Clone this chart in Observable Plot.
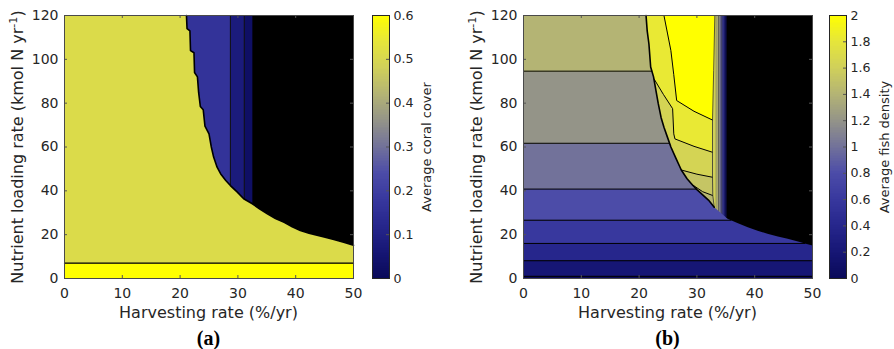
<!DOCTYPE html>
<html><head><meta charset="utf-8">
<script src="https://cdn.jsdelivr.net/npm/d3@7"></script>
<script src="https://cdn.jsdelivr.net/npm/@observablehq/plot@0.6"></script>
<style>
body{margin:0;background:#fff;}
#root{position:relative;width:894px;height:349px;overflow:hidden;font-family:"DejaVu Sans",sans-serif;color:#262626;}
.box{position:absolute;top:0;}
.lab{position:absolute;white-space:nowrap;font-size:16px;line-height:1;transform:translate(-50%,-50%);}
.rot{transform:translate(-50%,-50%) rotate(-90deg);}
.cbl{font-size:13px;}
.cap{font-family:"Liberation Serif",serif;font-weight:bold;font-size:20px;color:#000;}
sup{font-size:70%;vertical-align:0.5em;line-height:0;}
</style></head><body><div id="root"></div>
<script>
// ---------- ticks ----------
const xTicks = [0, 10, 20, 30, 40, 50];
const yTicks = [0, 20, 40, 60, 80, 100, 120];
const coralTicks = [0, 0.1, 0.2, 0.3, 0.4, 0.5, 0.6];
const fishTicks = [0, 0.2, 0.4, 0.6, 0.8, 1, 1.2, 1.4, 1.6, 1.8, 2];

// ---------- colour map (fraction of range -> colour) ----------
const cmapStops = [0, 0.1, 0.2, 0.3, 0.4, 0.5, 0.6, 0.7, 0.8, 0.9, 1];
const cmapColors = ["#0a0a5a", "#161675", "#26268c", "#38389e", "#4c4ca8", "#72729a", "#949488", "#b4b474", "#d0d05a", "#e6e63a", "#ffff00"];

// ---------- (a) average coral cover ----------
// edge of the high-coral region [harvest %, nutrient load], top to bottom
const coralEdge = [[21.1,120],[21.2,114],[21.7,113],[21.8,104],[22.4,103],[22.5,94],[23.0,92],[23.2,85],[23.5,78.5],[24.0,77],[24.3,69.5],[25.0,66],[25.4,60],[25.8,55.4],[26.4,50.8],[27.0,47.8],[27.9,44.7],[28.7,42.4],[29.9,39.4],[31.0,36.4],[32.5,34.1],[33.8,31.7],[35.1,29.5],[36.5,27.4],[38.0,25.6],[39.4,23.6],[40.8,21.9],[42.3,20.7],[43.7,19.8],[45.1,18.8],[46.6,17.8],[48.3,16.5],[50,15.2]];
const coralStripEdges = [32.5, 31.1, 28.7];      // vertical contour positions (harvest %)
const coralStripValues = [0.024, 0.078, 0.162];  // cover in the strips
const coralStripLines = [28.7, 31.1];
const coralMainValue = 0.51;
const coralLowTop = 7;
const coralLowValue = 0.6;

// ---------- (b) average fish density ----------
const fishEdge = [[21.2,120],[21.4,113],[21.7,107],[22.0,96.5],[22.5,92],[22.9,86],[23.3,80],[23.8,73.5],[24.3,69],[24.9,64.5],[25.5,60],[26.3,55.3],[27.3,49.5],[28.3,45.5],[29.2,42.8],[30.1,40.3],[31.0,38.2],[32.0,35.8],[33.0,32.5]];
const fishCollapseEdge = [[34.2,29.8],[35.3,27.3],[37.0,25.3],[38.8,23.4],[40.5,21.8],[42.2,20.4],[44.0,19.2],[45.7,18.1],[47.8,16.6],[50,15.1]];
const fishBandTops = [1, 8.1, 16, 26.6, 40.8, 61.7, 94.6, 120];
const fishBandValues = [0, 0.2, 0.4, 0.6, 0.8, 1.0, 1.2, 1.4];
const fishRightEdge = [[33.0,32.5],[32.75,37.9],[32.7,46.2],[32.7,57.6],[32.7,72.3],[32.9,95],[33.1,120]];
const fishTipValue = 1.42;
const fishLine4 = [[29.2,42.8],[31.0,39.6],[32.7,37.9]];
const fishLine3 = [[27.3,49.5],[30.0,47.6],[32.7,46.2]];
const fishLine2 = [[22.6,91],[24.2,84],[25.8,77.5],[26.0,66],[26.2,63.7],[29.5,60.3],[32.7,57.6]];
const fishLine1 = [[24.3,120],[24.9,112],[25.5,104],[26.0,93],[26.5,81.2],[29.5,76.3],[32.7,72.3]];
const fishInnerValues = [1.52, 1.64, 1.82, 2.0];
const fishStripEdges = [32.7, 33.3, 33.7, 34.0, 34.3, 34.5, 34.7, 34.9, 35.1];
const fishStripValues = [1.6, 1.4, 1.2, 1.0, 0.8, 0.6, 0.4, 0.2];
const fishStripBottom = 28;

// ---------- helpers ----------
const X_MAX = 50, Y_MAX = 120;
function xAt(edge, y) {
  if (y >= edge[0][1]) return edge[0][0];
  for (let i = 1; i < edge.length; i++) {
    const [x0, y0] = edge[i - 1], [x1, y1] = edge[i];
    if (y >= y1) return x0 + (x1 - x0) * (y - y0) / (y1 - y0);
  }
  return X_MAX;
}
function bandPoly(edge, lo, hi) {
  const right = [[xAt(edge, hi), hi], ...edge.filter(([, y]) => y < hi && y > lo), [xAt(edge, lo), lo]];
  return [[0, hi], ...right, [0, lo]];
}
function innerPoly(line, rightEdge) {
  const yEnd = line[line.length - 1][1];
  return [[0, line[0][1]], ...line, ...rightEdge.filter(([, y]) => y > yEnd), [0, Y_MAX]];
}
function rectPoly(x0, x1, y0, y1) { return [[x0, y0], [x1, y0], [x1, y1], [x0, y1]]; }
const poly = (points, value) => Plot.line(points, {x: d => d[0], y: d => d[1], fill: () => value});
const cline = (points, w = 1, c = "#000") => Plot.line(points, {x: d => d[0], y: d => d[1], stroke: c, strokeWidth: w});

const axisColor = "#262626", tickColor = "#555";
const W = 360, H = 305, ML = 64, MR = 7, MT = 15, MB = 27;
const font = '"DejaVu Sans", sans-serif';
const colorScale = max => ({type: "linear", domain: cmapStops.map(t => t * max), range: cmapColors, interpolate: "rgb", clamp: true});

function panel(layers, max) {
  const ph = H - MT - MB, pw = W - ML - MR;
  return Plot.plot({
    width: W, height: H, marginLeft: ML, marginRight: MR, marginTop: MT, marginBottom: MB,
    x: {domain: [0, X_MAX]}, y: {domain: [0, Y_MAX]},
    color: colorScale(max),
    style: {fontFamily: font, fontSize: "14px", color: axisColor, background: "transparent", overflow: "visible"},
    marks: [
      Plot.frame({fill: "black"}),
      ...layers,
      Plot.ruleX(xTicks, {insetTop: ph - 3, stroke: tickColor}),
      Plot.ruleX(xTicks, {insetBottom: ph - 3, stroke: tickColor}),
      Plot.ruleY(yTicks, {insetRight: pw - 3, stroke: tickColor}),
      Plot.ruleY(yTicks, {insetLeft: pw - 3, stroke: tickColor}),
      Plot.frame({stroke: "#4a4a4a", strokeWidth: 1}),
      Plot.axisX(xTicks, {tickSize: 0, tickPadding: 10, label: null}),
      Plot.axisY(yTicks, {tickSize: 0, tickPadding: 6, label: null})
    ]
  });
}
function colorbar(max, ticks) {
  const n = 160, steps = d3.range(n);
  return Plot.plot({
    width: 62, height: H, marginLeft: 1, marginRight: 44, marginTop: MT, marginBottom: MB,
    x: {domain: [0, 1], axis: null}, y: {domain: [0, max]},
    color: colorScale(max),
    style: {fontFamily: font, fontSize: "12.6px", color: axisColor, background: "transparent", overflow: "visible"},
    marks: [
      Plot.rect(steps, {x1: 0, x2: 1, y1: i => max * i / n, y2: i => max * (i + 1.2) / n, fill: i => max * (i + 0.5) / n, shapeRendering: "crispEdges"}),
      Plot.ruleY(ticks, {insetLeft: 14, stroke: tickColor}),
      Plot.frame({stroke: axisColor}),
      Plot.axisY(ticks, {anchor: "right", tickSize: 0, tickPadding: 4, label: null, tickFormat: d => String(d)})
    ]
  });
}

// ---------- panel (a) layers ----------
const layersA = [
  ...coralStripEdges.map((e, i) => poly(rectPoly(0, e, 0, Y_MAX), coralStripValues[i])),
  ...coralStripLines.map(e => cline([[e, 0], [e, Y_MAX]], 1, "#111")),
  poly(bandPoly(coralEdge, coralLowTop, Y_MAX), coralMainValue),
  poly(bandPoly(coralEdge, 0, coralLowTop), coralLowValue),
  cline(coralEdge, 1.6),
  cline([[0, coralLowTop], [X_MAX, coralLowTop]], 1.2)
];

// ---------- panel (b) layers ----------
const fishFullEdge = fishEdge.concat(fishCollapseEdge);
const fishInner = [fishLine4, fishLine3, fishLine2, fishLine1];
const layersB = [
  ...fishStripValues.map((v, i) => poly(rectPoly(fishStripEdges[i], fishStripEdges[i + 1], fishStripBottom, Y_MAX), v)),
  ...fishStripEdges.slice(1, -1).map(e => cline([[e, fishStripBottom], [e, Y_MAX]], 0.5, "rgba(0,0,0,0.45)")),
  poly([[0, fishRightEdge[0][1]], ...fishRightEdge, [0, Y_MAX]], fishTipValue),
  ...fishInner.map((l, i) => poly(innerPoly(l, fishRightEdge), fishInnerValues[i])),
  ...fishBandTops.map((hi, i) => poly(bandPoly(fishFullEdge, i ? fishBandTops[i - 1] : 0, hi), fishBandValues[i])),
  ...fishBandTops.slice(0, -1).map(y => cline([[0, y], [xAt(fishFullEdge, y), y]], 1)),
  ...fishInner.map(l => cline(l, 1)),
  cline(fishRightEdge, 0.8, "#333"),
  cline(fishEdge, 1.6)
];

// ---------- assemble ----------
const root = document.getElementById("root");
function place(node, left) { const d = document.createElement("div"); d.className = "box"; d.style.left = left + "px"; d.appendChild(node); root.appendChild(d); }
function label(html, cx, cy, cls) { const d = document.createElement("div"); d.className = "lab " + (cls || ""); d.style.left = cx + "px"; d.style.top = cy + "px"; d.innerHTML = html; root.appendChild(d); }

place(panel(layersA, 0.6), 0);
place(colorbar(0.6, coralTicks), 371);
place(panel(layersB, 2), 459);
place(colorbar(2, fishTicks), 828);

const yLab = "Nutrient loading rate (kmol N yr<sup>-1</sup>)";
label("Harvesting rate (%/yr)", 208.5, 313);
label("Harvesting rate (%/yr)", 667.5, 313);
label(yLab, 18, 146.5, "rot");
label(yLab, 477, 146.5, "rot");
label("Average coral cover", 425.5, 147, "rot cbl");
label("Average fish density", 884, 147, "rot cbl");
label("(a)", 208.5, 338, "cap");
label("(b)", 667.5, 338, "cap");
</script></body></html>
